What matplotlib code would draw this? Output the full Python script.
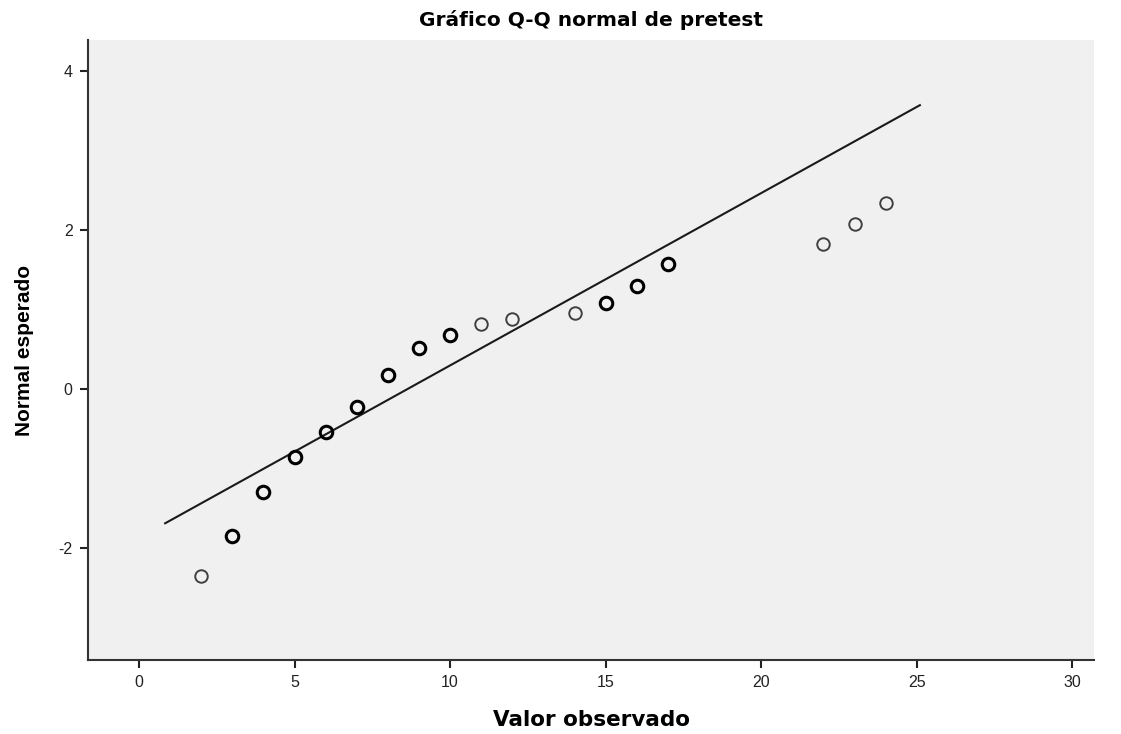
import matplotlib.pyplot as plt

# valores observados y normal esperado
observado = [2, 3, 4, 5, 6, 7, 8, 9, 10, 11, 12, 14, 15, 16, 17, 22, 23, 24]
esperado = [-2.35, -1.85, -1.30, -0.86, -0.54, -0.23, 0.18, 0.52, 0.68,
            0.82, 0.88, 0.96, 1.08, 1.30, 1.57, 1.82, 2.08, 2.34]
# los puntos con valores repetidos se ven más gruesos
repetido = [False, True, True, True, True, True, True, True, True,
            False, False, False, True, True, True, False, False, False]

linea_x = [0.84, 25.1]
linea_y = [-1.69, 3.57]

plt.rcParams['font.family'] = 'Liberation Sans'
plt.rcParams['axes.unicode_minus'] = False
fig = plt.figure(figsize=(11.21, 7.34), dpi=100)
ax = fig.add_axes([0.0785, 0.1008, 0.8975, 0.8447])
ax.set_facecolor('#f0f0f0')

ax.plot(linea_x, linea_y, color='#1a1a1a', lw=1.5)
for x, y, r in zip(observado, esperado, repetido):
    if r:
        ax.plot(x, y, 'o', mfc='none', mec='black', ms=9, mew=2.2)
    else:
        ax.plot(x, y, 'o', mfc='none', mec='#404040', ms=9, mew=1.4)

ax.set_xlim(-1.64, 30.7)
ax.set_ylim(-3.41, 4.39)
ax.set_xticks([0, 5, 10, 15, 20, 25, 30])
ax.set_yticks([-2, 0, 2, 4])
ax.tick_params(direction='out', length=6, width=1.5, labelsize=11.5, colors='#222222', pad=5)
for s in ['top', 'right']:
    ax.spines[s].set_visible(False)
for s in ['left', 'bottom']:
    ax.spines[s].set_linewidth(1.5)
    ax.spines[s].set_color('#333333')

ax.set_title('Gráfico Q-Q normal de pretest', fontsize=14.5, fontweight='bold',
             family='DejaVu Sans', pad=10)
ax.set_xlabel('Valor observado', fontsize=15.5, fontweight='bold',
              family='DejaVu Sans', labelpad=14)
ax.set_ylabel('Normal esperado', fontsize=15, fontweight='bold', labelpad=18)

plt.savefig('out.png', dpi=100)
